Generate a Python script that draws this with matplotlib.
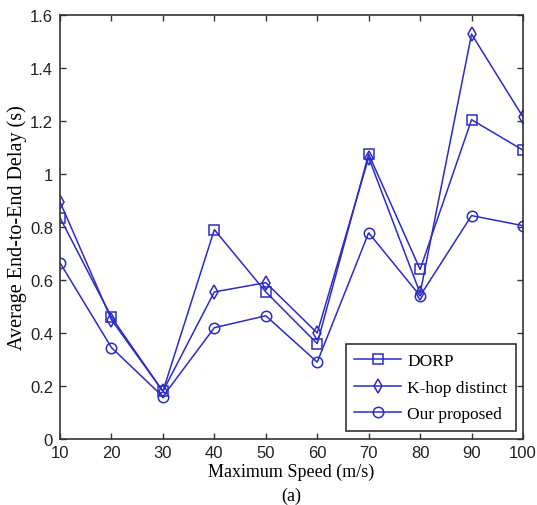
import matplotlib
matplotlib.use("Agg")
import matplotlib.pyplot as plt

speeds = [10, 20, 30, 40, 50, 60, 70, 80, 90, 100]
dorp = [0.835, 0.46, 0.18, 0.79, 0.555, 0.36, 1.075, 0.64, 1.205, 1.09]
khop = [0.895, 0.45, 0.18, 0.555, 0.59, 0.40, 1.062, 0.55, 1.528, 1.215]
ours = [0.665, 0.345, 0.16, 0.42, 0.465, 0.29, 0.778, 0.54, 0.843, 0.805]
labels = ["DORP", "K-hop distinct", "Our proposed"]

color = "#2b2bc8"
fig = plt.figure(figsize=(5.37, 5.06), dpi=100)
ax = fig.add_axes([60/537, 1-440/506, 463/537, 424/506])

mk = dict(color=color, lw=1.1, markersize=7.5, markerfacecolor="none", markeredgewidth=1.1)
ax.plot(speeds, dorp, marker="s", label=labels[0], **mk)
ax.plot(speeds, khop, marker="d", label=labels[1], **mk)
ax.plot(speeds, ours, marker="o", label=labels[2], **mk)

ax.set_xlim(10, 100)
ax.set_ylim(0, 1.6)
ax.set_xticks(speeds)
ax.set_yticks([0, 0.2, 0.4, 0.6, 0.8, 1.0, 1.2, 1.4, 1.6])
ax.set_yticklabels(["0", "0.2", "0.4", "0.6", "0.8", "1", "1.2", "1.4", "1.6"])
ax.tick_params(direction="in", top=True, right=True, length=4, width=1,
               colors="#333333", labelsize=12, labelcolor="#222222")
ax.tick_params(axis="y", pad=5)
ax.tick_params(axis="x", pad=4)
for lab in ax.get_xticklabels() + ax.get_yticklabels():
    lab.set_fontfamily("Liberation Sans")
for s in ax.spines.values():
    s.set_color("#333333")
    s.set_linewidth(1.2)

ax.set_xlabel("Maximum Speed (m/s)", fontfamily="Liberation Serif", fontsize=13, labelpad=2)
ax.set_ylabel("Average End-to-End Delay (s)", fontfamily="Liberation Serif", fontsize=14.5, labelpad=2)
fig.text((60+523)/2/537, 1-496/506, "(a)", ha="center", va="center",
         fontfamily="Liberation Serif", fontsize=13)

leg = ax.legend(loc="lower right", prop={"family": "Liberation Serif", "size": 12.5},
                fancybox=False, framealpha=1, edgecolor="#333333",
                borderpad=0.5, handlelength=2.7, handletextpad=0.35, labelspacing=0.6,
                borderaxespad=0, bbox_to_anchor=(0.985, 0.019))
leg.get_frame().set_linewidth(1.2)

fig.savefig("out.png", dpi=100)
